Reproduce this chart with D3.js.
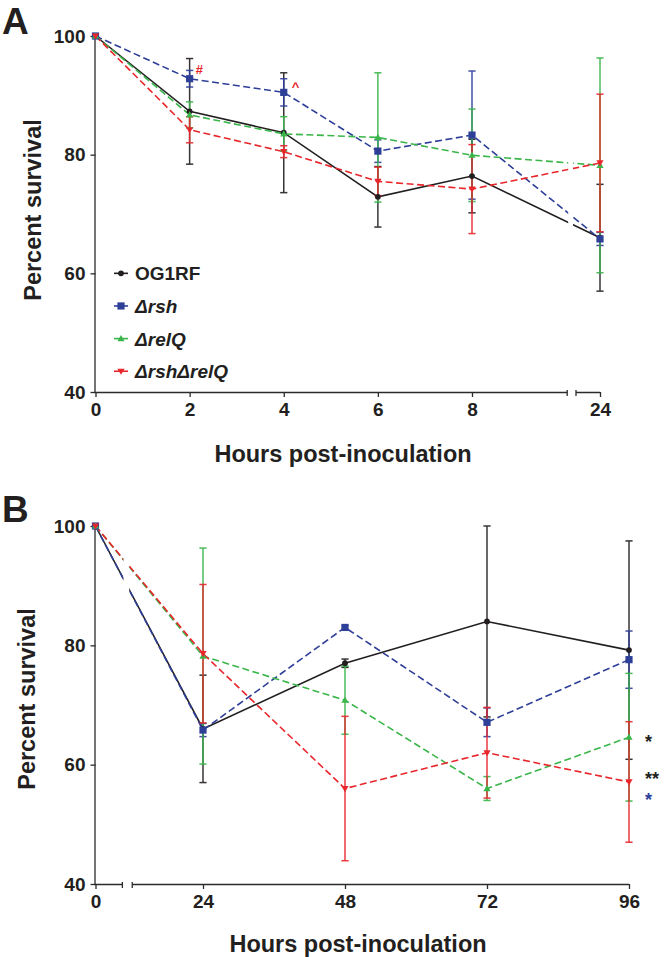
<!DOCTYPE html>
<html>
<head>
<meta charset="utf-8">
<script src="https://cdn.jsdelivr.net/npm/d3@7"></script>
<style>
html,body{margin:0;padding:0;background:#fff;}
svg{display:block;font-family:"Liberation Sans",Arial,sans-serif;font-weight:bold;}
</style>
</head>
<body>
<svg id="chart" width="664" height="957"></svg>
<script>
// ---------- DATA ----------
const seriesNames = ["OG1RF", "Δrsh", "ΔrelQ", "ΔrshΔrelQ"];
const seriesColors = ["#231f20", "#2e3f98", "#3ab54a", "#e8262b"];

// Panel A
const hoursA = [0, 2, 4, 6, 8, 24];
const hoursATicks = [0, 2, 4, 6, 8, 24];
const og1rfA = [100, 87.3, 83.7, 72.9, 76.4, 66.0];
const og1rfAErr = [0, 8.9, 10.1, 5.1, 6.2, 9.0];
const rshA = [100, 92.8, 90.5, 80.6, 83.3, 65.8];
const rshAErr = [0, 1.4, 2.3, 1.9, 10.8, 1.1];
const relQA = [100, 86.7, 83.5, 82.9, 79.9, 78.2];
const relQAErr = [0, 2.2, 2.9, 10.9, 7.8, 18.1];
const dblA = [100, 84.2, 80.5, 75.5, 74.2, 78.6];
const dblAErr = [0, 2.2, 1.0, 2.4, 7.5, 11.6];
const breakA = [19.9, 21.0];

// Panel B
const hoursB = [0, 24, 48, 72, 96];
const hoursBTicks = [0, 24, 48, 72, 96];
const og1rfB = [100, 66.0, 77.0, 84.0, 79.2];
const og1rfBErr = [0, 9.0, 0.7, 16.0, 18.3];
const rshB = [100, 65.8, 83.0, 67.1, 77.6];
const rshBErr = [0, 1.1, 0.3, 2.4, 4.8];
const relQB = [100, 78.2, 70.8, 56.0, 64.6];
const relQBErr = [0, 18.1, 5.7, 2.0, 10.7];
const dblB = [100, 78.6, 56.0, 62.0, 57.1];
const dblBErr = [0, 11.6, 12.1, 7.6, 10.1];
const breakB = [6.0, 8.2];

const yTicks = [40, 60, 80, 100];

// ---------- DRAW ----------
const svg = d3.select("#chart");
const FONT = '"Liberation Sans",Arial,sans-serif';
const axisColor = "#2b2b2b";

const markers = ["circle", "square", "triUp", "triDown"];
function drawMarker(g, type, x, y, color) {
  if (type === "circle") {
    g.append("circle").attr("cx", x).attr("cy", y).attr("r", 2.9).attr("fill", color);
  } else if (type === "square") {
    g.append("rect").attr("x", x - 3.6).attr("y", y - 3.6).attr("width", 7.2).attr("height", 7.2).attr("fill", color);
  } else if (type === "triUp") {
    g.append("path").attr("d", `M${x},${y - 3.6}L${x + 3.6},${y + 2.6}L${x - 3.6},${y + 2.6}Z`).attr("fill", color);
  } else {
    g.append("path").attr("d", `M${x},${y + 3.6}L${x + 3.6},${y - 2.6}L${x - 3.6},${y - 2.6}Z`).attr("fill", color);
  }
}

function panel(cfg) {
  const { id, hours, ticks, series, errs, x, y, brk, label, labelY, yLabelX, yLabelY, xLabelX, xLabelY } = cfg;
  const g = svg.append("g");
  const x0 = x(0), x1 = x(ticks[ticks.length - 1]);
  const bx0 = x(brk[0]), bx1 = x(brk[1]);

  // clip for the axis break in lines
  const clipId = "clip" + id;
  const cp = svg.append("defs").append("clipPath").attr("id", clipId);
  cp.append("rect").attr("x", 0).attr("y", 0).attr("width", bx0 + 1).attr("height", 957);
  cp.append("rect").attr("x", bx1 - 3).attr("y", 0).attr("width", 664).attr("height", 957);

  // y axis
  const yAxis = d3.axisLeft(y).tickValues(yTicks).tickSize(5).tickPadding(5);
  const ya = g.append("g").attr("transform", `translate(${x0},0)`).call(yAxis);
  ya.select(".domain").attr("d", `M-0.5,${y(100)}V${y(40)}`).attr("stroke", axisColor).attr("stroke-width", 1.3);
  ya.selectAll(".tick line").attr("stroke", axisColor).attr("stroke-width", 1.3);
  ya.selectAll(".tick text").attr("font-family", FONT).attr("font-weight", "bold").attr("font-size", 19).attr("fill", "#231f20");

  // x axis
  const xAxis = d3.axisBottom(x).tickValues(ticks).tickSize(5).tickPadding(6).tickFormat(d3.format("d"));
  const xa = g.append("g").attr("transform", `translate(0,${y(40)})`).call(xAxis);
  xa.select(".domain").remove();
  xa.selectAll(".tick line").attr("stroke", axisColor).attr("stroke-width", 1.3);
  xa.selectAll(".tick text").attr("font-family", FONT).attr("font-weight", "bold").attr("font-size", 19).attr("fill", "#231f20");
  xa.append("path").attr("d", `M${x0 - 1},0.5H${bx0}M${bx1},0.5H${x1}`).attr("stroke", axisColor).attr("stroke-width", 1.3).attr("fill", "none");
  xa.append("path").attr("d", `M${bx0},-2V4M${bx1},-2V4`).attr("stroke", axisColor).attr("stroke-width", 1.3);

  // series
  const order = [0, 1, 2, 3];
  const line = d3.line().x(d => x(d[0])).y(d => y(d[1]));
  order.forEach(i => {
    const vals = series[i], col = seriesColors[i];
    const pts = hours.map((h, k) => [h, vals[k]]);
    g.append("path").attr("d", line(pts)).attr("fill", "none").attr("stroke", col)
      .attr("stroke-width", 1.6).attr("stroke-dasharray", i === 0 ? null : "7,3.5")
      .attr("clip-path", `url(#${clipId})`);
  });
  order.forEach(i => {
    const vals = series[i], er = errs[i], col = seriesColors[i];
    const eg = g.append("g").attr("stroke", col).attr("stroke-width", 1.5).attr("opacity", 0.9);
    hours.forEach((h, k) => {
      if (!er[k]) return;
      const cx = x(h), yt = y(vals[k] + er[k]), yb = y(vals[k] - er[k]);
      eg.append("line").attr("x1", cx).attr("x2", cx).attr("y1", yt).attr("y2", yb);
      eg.append("line").attr("x1", cx - 3.6).attr("x2", cx + 3.6).attr("y1", yt).attr("y2", yt);
      eg.append("line").attr("x1", cx - 3.6).attr("x2", cx + 3.6).attr("y1", yb).attr("y2", yb);
    });
  });
  order.forEach(i => {
    const vals = series[i], col = seriesColors[i];
    hours.forEach((h, k) => drawMarker(g, markers[i], x(h), y(vals[k]), col));
  });

  // panel letter
  svg.append("text").attr("x", 2).attr("y", labelY).attr("font-size", 37).attr("font-weight", "bold")
    .attr("font-family", FONT).attr("fill", "#231f20").text(label);
  // axis titles
  svg.append("text").attr("transform", `translate(${yLabelX},${yLabelY}) rotate(-90)`).attr("text-anchor", "middle")
    .attr("font-size", 23.5).attr("font-weight", "bold").attr("font-family", FONT).attr("fill", "#231f20").text("Percent survival");
  svg.append("text").attr("x", xLabelX).attr("y", xLabelY).attr("text-anchor", "middle")
    .attr("font-size", 23.5).attr("font-weight", "bold").attr("font-family", FONT).attr("fill", "#231f20").text("Hours post-inoculation");
  return g;
}

const xA = d3.scaleLinear().domain([0, 8, 24]).range([95.5, 472, 600]);
const yA = d3.scaleLinear().domain([40, 100]).range([392, 36]);
panel({ id: "A", hours: hoursA, ticks: hoursATicks,
  series: [og1rfA, rshA, relQA, dblA], errs: [og1rfAErr, rshAErr, relQAErr, dblAErr],
  x: xA, y: yA, brk: breakA, label: "A", labelY: 34, yLabelX: 41, yLabelY: 210, xLabelX: 343, xLabelY: 462 });

const xB = d3.scaleLinear().domain([0, 24, 96]).range([95.5, 203, 629]);
const yB = d3.scaleLinear().domain([40, 100]).range([884, 526]);
panel({ id: "B", hours: hoursB, ticks: hoursBTicks,
  series: [og1rfB, rshB, relQB, dblB], errs: [og1rfBErr, rshBErr, relQBErr, dblBErr],
  x: xB, y: yB, brk: breakB, label: "B", labelY: 522, yLabelX: 35, yLabelY: 699, xLabelX: 358, xLabelY: 952 });

// legend (panel A)
const legendY = [60, 54.5, 49, 43.5];
seriesNames.forEach((name, i) => {
  const ly = yA(legendY[i]);
  const lg = svg.append("g");
  lg.append("line").attr("x1", 114).attr("x2", 128).attr("y1", ly).attr("y2", ly)
    .attr("stroke", seriesColors[i]).attr("stroke-width", 1.6);
  drawMarker(lg, markers[i], 121, ly, seriesColors[i]);
  lg.append("text").attr("x", 135).attr("y", ly + 7).attr("font-size", 19).attr("font-weight", "bold")
    .attr("font-family", FONT).attr("fill", "#231f20").attr("font-style", i === 0 ? null : "italic").text(name);
});

// significance annotations
const annA = [{ h: 2, v: 94.5, t: "#", c: seriesColors[3], dx: 6 }, { h: 4, v: 91.5, t: "^", c: seriesColors[3], dx: 8 }];
annA.forEach(a => svg.append("text").attr("x", xA(a.h) + a.dx).attr("y", yA(a.v) + 5).attr("font-size", 13)
  .attr("font-weight", "bold").attr("font-family", FONT).attr("fill", a.c).text(a.t));

const annB = [{ v: 64.6, t: "*", c: seriesColors[0] }, { v: 58.3, t: "**", c: seriesColors[0] }, { v: 54.85, t: "*", c: seriesColors[1] }];
annB.forEach(a => svg.append("text").attr("x", xB(96) + 16).attr("y", yB(a.v) + 10.4).attr("font-size", 18)
  .attr("font-weight", "bold").attr("font-family", FONT).attr("fill", a.c).text(a.t));
</script>
</body>
</html>
